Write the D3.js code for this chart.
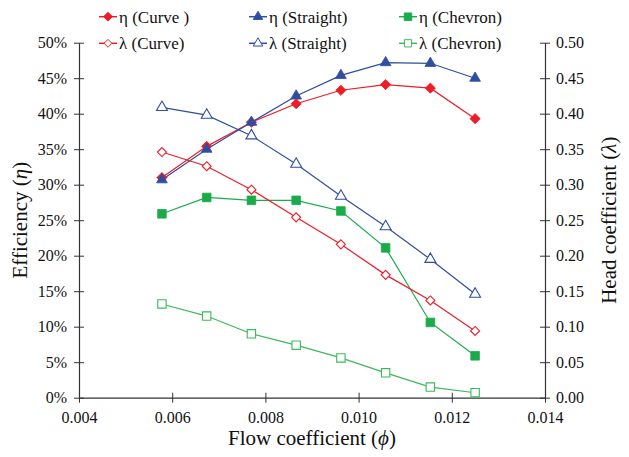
<!DOCTYPE html>
<html lang="en">
<head>
    <meta charset="UTF-8">
    <title>Efficiency and Head Coefficient</title>
    <script src="https://d3js.org/d3.v7.min.js"></script>
    <style>
        body { margin: 0; background: #fff; }
    </style>
</head>
<body>
    <svg width="629" height="457"></svg>

    <script>
        // Flow coefficient at each measured point
        const phi = [0.00578, 0.00674, 0.0077, 0.00866, 0.00962, 0.01058, 0.01154, 0.0125];

        // Efficiency (%), left axis
        const etaCurve = [31.0, 35.4, 38.8, 41.4, 43.3, 44.1, 43.6, 39.3];
        const etaStraight = [30.7, 35.0, 38.8, 42.5, 45.4, 47.2, 47.1, 45.0];
        const etaChevron = [25.9, 28.2, 27.8, 27.8, 26.3, 21.1, 10.6, 5.9];

        // Head coefficient, right axis
        const lamCurve = [0.346, 0.326, 0.293, 0.254, 0.216, 0.173, 0.137, 0.094];
        const lamStraight = [0.409, 0.398, 0.369, 0.329, 0.284, 0.241, 0.195, 0.146];
        const lamChevron = [0.132, 0.115, 0.090, 0.074, 0.056, 0.035, 0.015, 0.007];

        // Tick values
        const xTicks = [0.004, 0.006, 0.008, 0.010, 0.012, 0.014];
        const etaTicks = [0, 5, 10, 15, 20, 25, 30, 35, 40, 45, 50];
        const lamTicks = [0, 0.05, 0.1, 0.15, 0.2, 0.25, 0.3, 0.35, 0.4, 0.45, 0.5];

        const serif = "'Liberation Serif', 'Times New Roman', serif";
        const red = "#ee1c25", blue = "#2f4ea2", green = "#1aab4b", lightGreen = "#3cb95a";
        const diamond = d3.symbolDiamond2 || d3.symbolDiamond;

        const series = [
            { label: "η (Curve )", values: etaCurve, axis: "eta", color: red, shape: diamond, size: 66, filled: true },
            { label: "η (Straight)", values: etaStraight, axis: "eta", color: blue, shape: d3.symbolTriangle, size: 50, filled: true },
            { label: "η (Chevron)", values: etaChevron, axis: "eta", color: green, shape: d3.symbolSquare, size: 74, filled: true },
            { label: "λ (Curve)", values: lamCurve, axis: "lam", color: red, shape: diamond, size: 52, filled: false },
            { label: "λ (Straight)", values: lamStraight, axis: "lam", color: blue, shape: d3.symbolTriangle, size: 52, filled: false },
            { label: "λ (Chevron)", values: lamChevron, axis: "lam", color: lightGreen, shape: d3.symbolSquare, size: 70, filled: false }
        ];

        const plotLeft = 79, plotRight = 545, plotTop = 42.7, plotBottom = 397.7;

        const svg = d3.select("svg").attr("font-family", serif);

        const x = d3.scaleLinear().domain([0.004, 0.014]).range([plotLeft, plotRight]);
        const yEta = d3.scaleLinear().domain([0, 50]).range([plotBottom, plotTop]);
        const yLam = d3.scaleLinear().domain([0, 0.5]).range([plotBottom, plotTop]);

        // x axis, ticks crossing the line
        const gx = svg.append("g")
            .attr("transform", `translate(0,${plotBottom})`)
            .call(d3.axisBottom(x).tickValues(xTicks).tickFormat(d3.format(".3f")).tickSize(5).tickSizeOuter(0).tickPadding(9));
        gx.selectAll(".tick line").attr("y1", -5);

        // left axis
        const gl = svg.append("g")
            .attr("transform", `translate(${plotLeft},0)`)
            .call(d3.axisLeft(yEta).tickValues(etaTicks).tickFormat(d => d + "%").tickSize(5).tickSizeOuter(0).tickPadding(7));
        gl.selectAll(".tick line").attr("x1", 5);

        // right axis
        const gr = svg.append("g")
            .attr("transform", `translate(${plotRight},0)`)
            .call(d3.axisRight(yLam).tickValues(lamTicks).tickFormat(d3.format(".2f")).tickSize(5).tickSizeOuter(0).tickPadding(6));
        gr.selectAll(".tick line").attr("x1", -5);

        [gx, gl, gr].forEach(g => {
            g.attr("font-family", serif).attr("font-size", 16);
            g.select(".domain").attr("stroke", "#333").attr("stroke-width", 1.2);
            g.selectAll(".tick line").attr("stroke", "#333");
            g.selectAll(".tick text").attr("fill", "#111").style("font-family", serif).style("font-size", "16px");
        });

        // axis titles
        const xt = svg.append("text")
            .attr("x", (plotLeft + plotRight) / 2).attr("y", 445).attr("text-anchor", "middle")
            .style("font-family", serif).style("font-size", "21px").attr("fill", "#111");
        xt.append("tspan").text("Flow coefficient (");
        xt.append("tspan").attr("font-style", "italic").text("ϕ");
        xt.append("tspan").text(")");

        const yt = svg.append("text")
            .attr("transform", `translate(27,${(plotTop + plotBottom) / 2}) rotate(-90)`).attr("text-anchor", "middle")
            .style("font-family", serif).style("font-size", "21px").attr("fill", "#111");
        yt.append("tspan").text("Efficiency (");
        yt.append("tspan").attr("font-style", "italic").text("η");
        yt.append("tspan").text(")");

        const rt = svg.append("text")
            .attr("transform", `translate(616,${(plotTop + plotBottom) / 2}) rotate(-90)`).attr("text-anchor", "middle")
            .style("font-family", serif).style("font-size", "21px").attr("fill", "#111");
        rt.append("tspan").text("Head coefficient (");
        rt.append("tspan").attr("font-style", "italic").text("λ");
        rt.append("tspan").text(")");

        // lines then markers
        series.forEach(s => {
            const y = s.axis === "eta" ? yEta : yLam;
            const pts = phi.map((p, i) => [p, s.values[i]]);
            svg.append("path")
                .datum(pts)
                .attr("fill", "none")
                .attr("stroke", s.color)
                .attr("stroke-width", 1.2)
                .attr("d", d3.line().x(d => x(d[0])).y(d => y(d[1])));
        });
        series.forEach(s => {
            const y = s.axis === "eta" ? yEta : yLam;
            const pts = phi.map((p, i) => [p, s.values[i]]);
            svg.append("g").selectAll("path")
                .data(pts)
                .join("path")
                .attr("transform", d => `translate(${x(d[0])},${y(d[1])})`)
                .attr("d", d3.symbol().type(s.shape).size(s.size))
                .attr("fill", s.filled ? s.color : "#fff")
                .attr("stroke", s.color)
                .attr("stroke-width", s.filled ? 0.8 : 1.1);
        });

        // legend: 3 columns x 2 rows
        const legCols = [99, 249, 399];
        const legRows = [16.7, 43.3];
        const legend = svg.append("g");
        series.forEach((s, i) => {
            const lx = legCols[i % 3], ly = legRows[Math.floor(i / 3)];
            const g = legend.append("g").attr("transform", `translate(${lx},${ly})`);
            g.append("line").attr("x1", 0).attr("x2", 18).attr("stroke", s.color).attr("stroke-width", 1.5);
            g.append("path")
                .attr("transform", "translate(9,0)")
                .attr("d", d3.symbol().type(s.shape).size(s.size * 0.75))
                .attr("fill", s.filled ? s.color : "#fff")
                .attr("stroke", s.color)
                .attr("stroke-width", 1);
            g.append("text").attr("x", 20).attr("y", 6).text(s.label)
                .attr("fill", "#111").style("font-family", serif).style("font-size", "17px");
        });
    </script>
</body>
</html>
